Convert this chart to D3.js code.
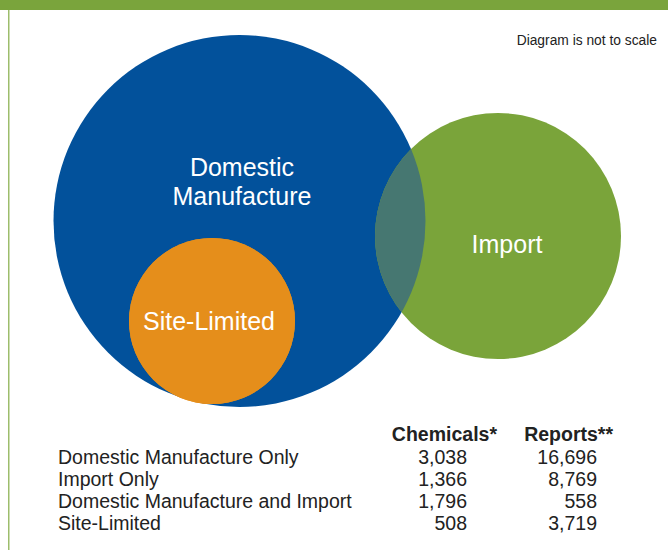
<!DOCTYPE html>
<html><head><meta charset="utf-8">
<script src="https://cdn.jsdelivr.net/npm/d3@7"></script>
<style>html,body{margin:0;padding:0;background:#fff;}svg{display:block;}</style>
</head><body>
<svg id="chart" width="668" height="550"></svg>
<script>
// Data
const sets = ["Domestic Manufacture", "Import", "Site-Limited"];
const rowLabels = ["Domestic Manufacture Only", "Import Only", "Domestic Manufacture and Import", "Site-Limited"];
const columnHeaders = ["Chemicals*", "Reports**"];
const chemicals = [3038, 1366, 1796, 508];
const reports = [16696, 8769, 558, 3719];
const note = "Diagram is not to scale";

const svg = d3.select("#chart");
const font = "'Liberation Sans', Arial, Helvetica, sans-serif";
const colors = {dm: "#02519b", imp: "#7aa43a", site: "#e58e1b", overlap: "#467771"};

// frame
svg.append("rect").attr("x", 0).attr("y", 0).attr("width", 668).attr("height", 10).attr("fill", "#7aa43c");
svg.append("rect").attr("x", 8).attr("y", 10).attr("width", 1.5).attr("height", 540).attr("fill", "#9dbd6c");

// layout (diagram not to scale)
const layout = {
  "Domestic Manufacture": {cx: 239.5, cy: 221, r: 186, fill: colors.dm, lx: 242, ly: [176, 205]},
  "Import": {cx: 498, cy: 236, r: 123, fill: colors.imp, lx: 507, ly: [253]},
  "Site-Limited": {cx: 212, cy: 321, r: 83, fill: colors.site, lx: 209, ly: [330]}
};
const labelLines = {"Domestic Manufacture": ["Domestic", "Manufacture"], "Import": ["Import"], "Site-Limited": ["Site-Limited"]};

const g = svg.append("g");
g.selectAll("circle.set").data(sets).join("circle").attr("class", "set")
  .attr("cx", d => layout[d].cx).attr("cy", d => layout[d].cy).attr("r", d => layout[d].r)
  .attr("fill", d => layout[d].fill);

// overlap lens
const a = layout["Domestic Manufacture"], b = layout["Import"];
svg.append("defs").append("clipPath").attr("id", "clipImp")
  .append("circle").attr("cx", b.cx).attr("cy", b.cy).attr("r", b.r);
g.append("circle").attr("cx", a.cx).attr("cy", a.cy).attr("r", a.r)
  .attr("fill", colors.overlap).attr("clip-path", "url(#clipImp)");
// re-draw site-limited on top
g.append("circle").attr("cx", layout["Site-Limited"].cx).attr("cy", layout["Site-Limited"].cy)
  .attr("r", layout["Site-Limited"].r).attr("fill", colors.site);

// set labels
sets.forEach(s => {
  labelLines[s].forEach((line, i) => {
    g.append("text").attr("x", layout[s].lx).attr("y", layout[s].ly[i])
      .attr("text-anchor", "middle").attr("fill", "#fff")
      .attr("font-family", font).attr("font-size", 25).text(line);
  });
});

// note
svg.append("text").attr("x", 657).attr("y", 45).attr("text-anchor", "end")
  .attr("font-family", font).attr("font-size", 13.8).attr("fill", "#222").text(note);

// table
const rowY = d3.scalePoint().domain(d3.range(rowLabels.length)).range([464, 530]);
const fmt = d3.format(",");
const t = svg.append("g").attr("font-family", font).attr("font-size", 19.5).attr("fill", "#222");
t.append("text").attr("x", 497).attr("y", 441).attr("text-anchor", "end").attr("font-weight", "bold").text(columnHeaders[0]);
t.append("text").attr("x", 613).attr("y", 441).attr("text-anchor", "end").attr("font-weight", "bold").text(columnHeaders[1]);
rowLabels.forEach((lab, i) => {
  t.append("text").attr("x", 58).attr("y", rowY(i)).text(lab);
  t.append("text").attr("x", 467).attr("y", rowY(i)).attr("text-anchor", "end").text(fmt(chemicals[i]));
  t.append("text").attr("x", 597).attr("y", rowY(i)).attr("text-anchor", "end").text(fmt(reports[i]));
});
</script>
</body></html>
